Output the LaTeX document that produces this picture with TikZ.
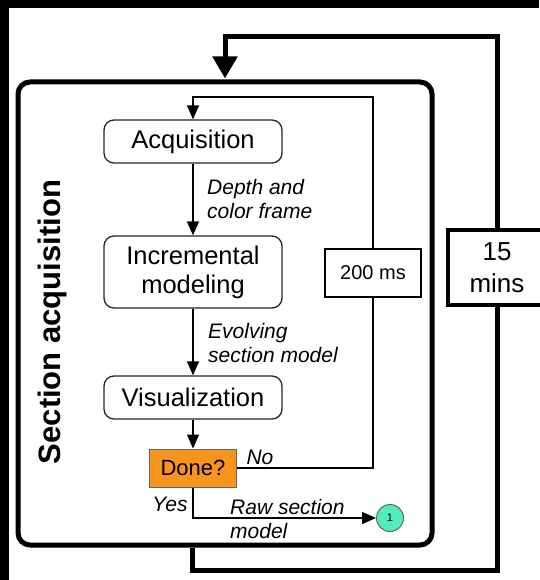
\documentclass[tikz,border=0pt]{standalone}
\usepackage{fontspec}
\setmainfont{Liberation Sans}
\usetikzlibrary{arrows.meta,calc}
\definecolor{doneorange}{RGB}{247,148,29}
\definecolor{markteal}{RGB}{80,238,190}
\begin{document}
\begin{tikzpicture}[x=1pt,y=-1pt,
  stage/.style={draw=black!85, line width=1.3pt, rounded corners=10pt,
    minimum width=178pt, fill=white, align=center, inner sep=0pt,
    font=\fontsize{25.5}{29}\selectfont},
  flow/.style={line width=1.4pt, -{Triangle[width=12pt,length=14pt]}},
  loopline/.style={line width=5pt, -{Triangle[width=24pt,length=22pt]}},
  note/.style={font=\fontsize{21}{24}\selectfont\itshape, align=left,
    anchor=west, inner sep=0pt},
]
% page frame
\fill[black] (0,0) rectangle (539,580);
\fill[white] (9,8) rectangle (539,580);
\useasboundingbox (0,0) rectangle (539,580);

% section container
\node[draw, line width=5pt, rounded corners=12pt, minimum width=414pt,
  minimum height=463pt, inner sep=0pt] (sec) at (225,313.5) {};
\node[rotate=90, font=\fontsize{31}{36}\selectfont\bfseries] (title)
  at (52,322) {Section acquisition};

% processing stages
\node[stage, minimum height=43pt] (acq) at (193,141.5) {Acquisition};
\node[stage, minimum height=72pt] (inc) at (193,272) {Incremental\\modeling};
\node[stage, minimum height=43pt] (vis) at (193,397.5) {Visualization};
\node[draw=black!60, line width=1pt, fill=doneorange, minimum width=87pt,
  minimum height=38pt, inner sep=0pt, font=\fontsize{22}{26}\selectfont]
  (done) at (193,468) {Done?};
\node[circle, draw=black!60, line width=1pt, fill=markteal, minimum size=27pt,
  inner sep=0pt, font=\fontsize{11}{13}\selectfont] (out) at (390,518) {1};

% main flow
\draw[flow] (acq) -- (inc);
\draw[flow] (inc) -- (vis);
\draw[flow] (vis) -- (done);
\draw[flow] (done.south) |- (out.west);

% inner 200 ms loop
\coordinate (looptop) at (373,97);
\draw[flow] (done.east) -| (looptop) -| (acq.north);
\node[draw, line width=1.4pt, fill=white, minimum width=96pt,
  minimum height=48pt, inner sep=0pt, font=\fontsize{20}{24}\selectfont]
  (tick) at (373,273) {200 ms};

% outer 15 min loop
\coordinate (lb) at (192,570);
\coordinate (rb) at (497,570);
\coordinate (rt) at (497,37);
\coordinate (lt) at (225,37);
\draw[loopline] (sec.south -| lb) -- (lb) -- (rb) -- (rt) -- (lt)
  -- ($(lt |- sec.north)+(0,-1)$);
\node[draw, line width=4.5pt, fill=white, minimum width=98pt,
  minimum height=75pt, inner sep=0pt, align=center,
  font=\fontsize{26}{32}\selectfont] (period) at (497,267.5) {15\\mins};

% edge labels
\node[note] (l1) at (207,199) {Depth and\\color frame};
\node[note] (l2) at (208,343) {Evolving\\section model};
\node[note] (l3) at (230,519) {Raw section\\model};
\node[note, anchor=center] (yes) at (170,504) {Yes};
\node[note, anchor=center] (no) at (260,457) {No};
\end{tikzpicture}
\end{document}
